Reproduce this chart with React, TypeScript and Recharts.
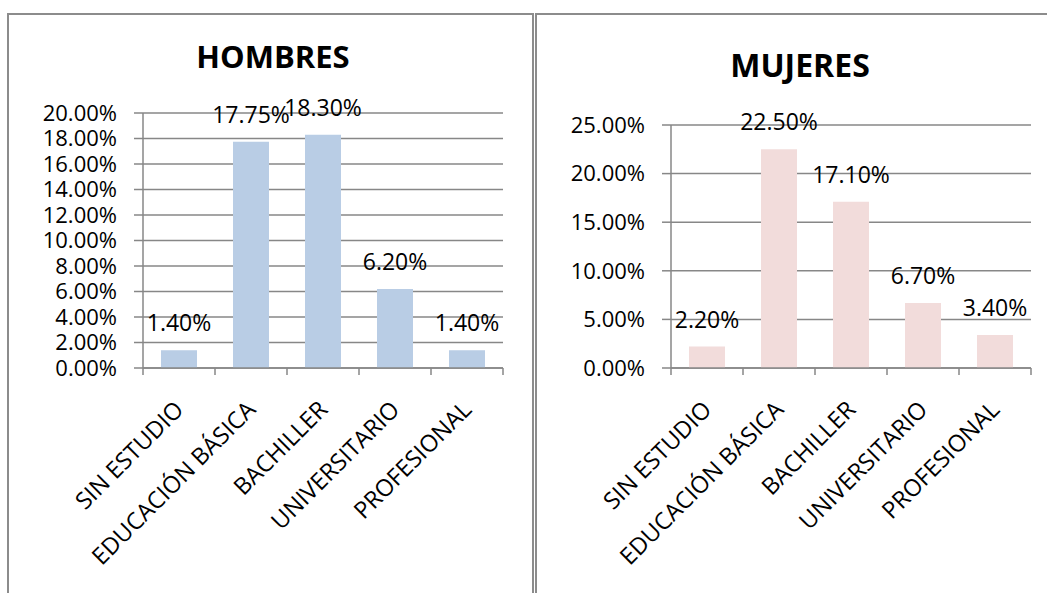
import React from 'react';
import { BarChart, Bar, XAxis, YAxis, CartesianGrid, LabelList } from 'recharts';

const categories = ['SIN ESTUDIO', 'EDUCACIÓN BÁSICA', 'BACHILLER', 'UNIVERSITARIO', 'PROFESIONAL'];
const hombresValues = [1.4, 17.75, 18.3, 6.2, 1.4];
const mujeresValues = [2.2, 22.5, 17.1, 6.7, 3.4];
const hombresTicks = [0, 2, 4, 6, 8, 10, 12, 14, 16, 18, 20];
const mujeresTicks = [0, 5, 10, 15, 20, 25];
const titles = ['HOMBRES', 'MUJERES'];

const FONT = '"Open Sans", sans-serif';
const AXIS = '#878787';
const fmt = (v: number) => `${Number(v).toFixed(2)}%`;

const makeData = (vals: number[]) => categories.map((c, i) => ({ name: c, value: vals[i] }));

const XTick = (props: any) => {
  const { x, y, payload, index, visibleTicksCount } = props;
  const half = payload && typeof payload.offset === 'number' && payload.offset > 0 ? payload.offset : 36;
  const ax = x + 6;
  const ay = y + 43;
  return (
    <g>
      <line x1={x - half} x2={x - half} y1={y} y2={y + 7} stroke={AXIS} strokeWidth={1.5} />
      {index === visibleTicksCount - 1 && (
        <line x1={x + half} x2={x + half} y1={y} y2={y + 7} stroke={AXIS} strokeWidth={1.5} />
      )}
      <text
        x={ax}
        y={ay}
        transform={`rotate(-45 ${ax} ${ay})`}
        textAnchor="end"
        fontFamily={FONT}
        fontSize={23.5}
        fill="#000"
      >
        {payload.value}
      </text>
    </g>
  );
};

type PanelProps = {
  values: number[];
  ticks: number[];
  color: string;
  left: number;
  width: number;
  top: number;
  right: number;
};

const Panel = ({ values, ticks, color, left, width, top, right }: PanelProps) => (
  <div style={{ position: 'absolute', left, top: 0 }}>
    <BarChart
      width={width}
      height={593}
      data={makeData(values)}
      margin={{ top, right, bottom: 593 - 368 - 150, left: 0 }}
      barCategoryGap="25%"
    >
      <CartesianGrid vertical={false} stroke={AXIS} strokeWidth={1.5} />
      <XAxis
        dataKey="name"
        interval={0}
        height={150}
        tickLine={false}
        tickSize={0}
        tickMargin={0}
        axisLine={{ stroke: AXIS, strokeWidth: 1.5 }}
        tick={<XTick />}
      />
      <YAxis
        width={143}
        domain={[0, ticks[ticks.length - 1]]}
        ticks={ticks}
        interval={0}
        tickFormatter={fmt}
        tickSize={9}
        tickMargin={17}
        axisLine={{ stroke: AXIS, strokeWidth: 1.5 }}
        tickLine={{ stroke: AXIS, strokeWidth: 1.5 }}
        tick={{ fontFamily: FONT, fontSize: 22, fill: '#000' }}
      />
      <Bar dataKey="value" fill={color} isAnimationActive={false}>
        <LabelList
          dataKey="value"
          position="top"
          offset={19}
          formatter={(v: any) => fmt(v)}
          style={{ fontFamily: FONT, fontSize: 23, fill: '#000' }}
        />
      </Bar>
    </BarChart>
  </div>
);

export default function App() {
  return (
    <div
      style={{
        position: 'fixed',
        left: 0,
        top: 0,
        width: 1047,
        height: 593,
        overflow: 'hidden',
        background: '#fff',
      }}
    >
      <div
        style={{
          position: 'absolute',
          left: 7,
          top: 13,
          width: 527,
          height: 700,
          boxSizing: 'border-box',
          border: '2px solid #8c8c8c',
        }}
      />
      <div
        style={{
          position: 'absolute',
          left: 535,
          top: 13,
          width: 700,
          height: 700,
          boxSizing: 'border-box',
          border: '2px solid #8c8c8c',
        }}
      />
      <svg width={1047} height={593} style={{ position: 'absolute', left: 0, top: 0 }}>
        <text x={273} y={68} textAnchor="middle" fontFamily={FONT} fontWeight={700} fontSize={31} fill="#000">
          {titles[0]}
        </text>
        <text x={800} y={77} textAnchor="middle" fontFamily={FONT} fontWeight={700} fontSize={32} fill="#000">
          {titles[1]}
        </text>
      </svg>
      <Panel values={hombresValues} ticks={hombresTicks} color="#b9cde5" left={0} width={533} top={113} right={30} />
      <Panel values={mujeresValues} ticks={mujeresTicks} color="#f2dcdb" left={528} width={519} top={125} right={16} />
    </div>
  );
}
